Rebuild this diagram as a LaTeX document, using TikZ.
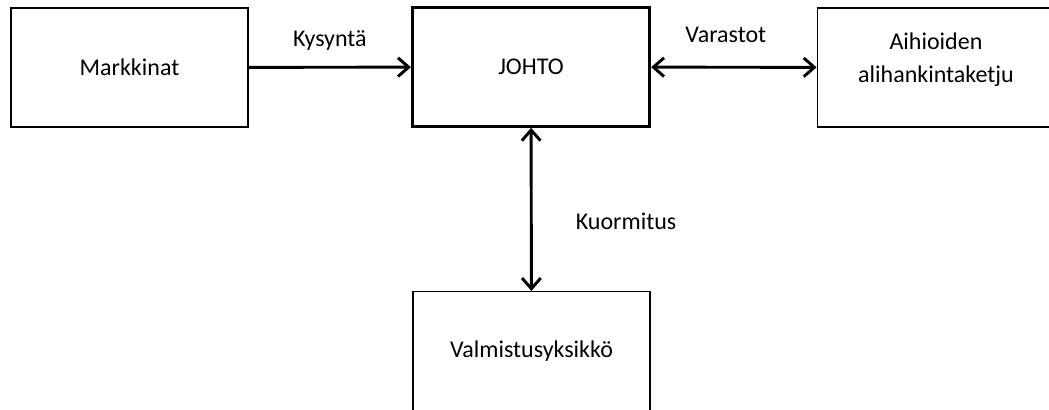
\documentclass[tikz,border=0pt]{standalone}
\usepackage{fontspec}
\setmainfont{Carlito}
\usetikzlibrary{arrows.meta,positioning}

\begin{document}
\begin{tikzpicture}[x=0.75pt,y=-0.75pt,
 >={Straight Barb[length=8pt,width=14pt]},
 every node/.style={font=\fontsize{18}{24.75}\selectfont},
 box/.style={draw,line width=1.1pt,align=center,minimum width=178pt,minimum height=89pt},
 link/.style={line width=2.2pt}]
\useasboundingbox (0,0) rectangle (1049,410);
\node[box] (mark) at (129.5,67.5) {Markkinat};
\node[box,line width=2.2pt] (johto) at (531,67) {JOHTO};
\node[box] (aihio) at (936,67.5) {Aihioiden\\alihankintaketju\\[-10pt]\mbox{}};
\node[box] (valm) at (531.5,351) {Valmistusyksikkö};
\draw[link,->] (mark) -- node[above=8pt] {Kysyntä} (johto);
\draw[link,<->] (johto) -- node[above=14pt,xshift=-6pt] {Varastot} (aihio);
\draw[link,<->] (johto) -- node[right=29pt,yshift=-9pt] {Kuormitus} (valm);
\end{tikzpicture}
\end{document}
